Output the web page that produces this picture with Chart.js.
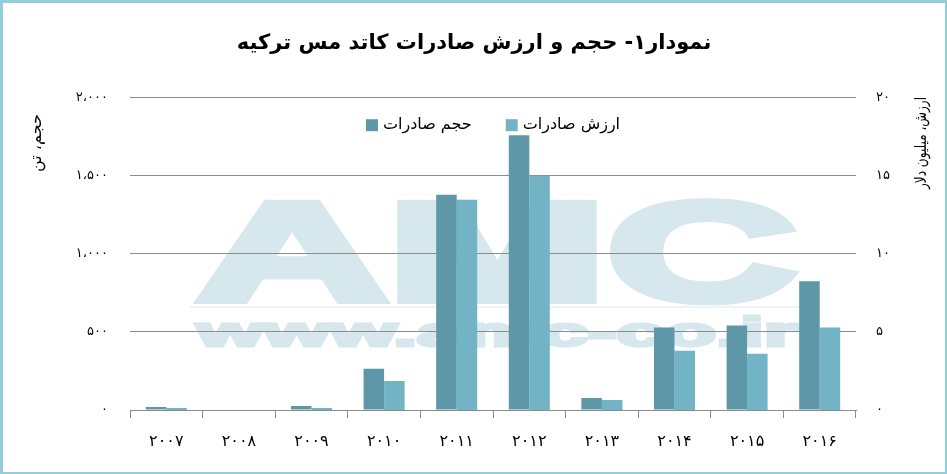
<!DOCTYPE html>
<html>
<head>
<meta charset="utf-8">
<script src="https://cdn.jsdelivr.net/npm/chart.js@4.4.1/dist/chart.umd.min.js"></script>
<style>
  html, body { margin: 0; padding: 0; background: #fff; }
  #wrap {
    width: 947px; height: 474px; box-sizing: border-box;
    border-style: solid; border-color: #92CDDC;
    border-width: 3px 2px 2px 3px;
    position: relative;
  }
  #wrap canvas { display: block; }
</style>
</head>
<body>
<div id="wrap"><canvas id="chart" width="942" height="469"></canvas></div>
<script>
// years (Persian digits) and the two series
const years = ["۲۰۰۷", "۲۰۰۸", "۲۰۰۹", "۲۰۱۰", "۲۰۱۱", "۲۰۱۲", "۲۰۱۳", "۲۰۱۴", "۲۰۱۵", "۲۰۱۶"];
const volumeTons = [19, 0, 26, 264, 1376, 1756, 77, 527, 540, 823];
const valueMillionUsd = [0.13, 0, 0.13, 1.86, 13.44, 14.98, 0.64, 3.79, 3.6, 5.27];

// tick labels
const leftTicks = ["۰", "۵۰۰", "۱،۰۰۰", "۱،۵۰۰", "۲،۰۰۰"];
const rightTicks = ["۰", "۵", "۱۰", "۱۵", "۲۰"];

const titleText = "نمودار۱- حجم و ارزش صادرات کاتد مس ترکیه";
const leftTitle = "حجم، تن";
const rightTitle = "ارزش، میلیون دلار";
const volumeLabel = "حجم صادرات";
const valueLabel = "ارزش صادرات";

const FONT = "'DejaVu Sans', sans-serif";

// faint AMC watermark behind the grid
const watermark = {
  id: "watermark",
  beforeDraw(chart) {
    const ctx = chart.ctx;
    ctx.save();
    ctx.fillStyle = "#D6E7ED";
    ctx.strokeStyle = "#D6E7ED";
    ctx.lineJoin = "miter";
    ctx.miterLimit = 2;
    ctx.textAlign = "center";
    ctx.textBaseline = "alphabetic";

    ctx.font = "bold 140px 'Liberation Sans', sans-serif";
    let w = ctx.measureText("AMC").width;
    ctx.save();
    ctx.translate(494, 297);
    ctx.scale(600 / w, 1);
    ctx.lineWidth = 8;
    ctx.fillText("AMC", 0, 0);
    ctx.strokeText("AMC", 0, 0);
    ctx.restore();

    ctx.fillStyle = "#EEF5F8";
    ctx.fillRect(187, 303, 610, 2);

    ctx.fillStyle = "#D6E7ED";
    ctx.font = "bold 40px 'Liberation Sans', sans-serif";
    w = ctx.measureText("www.amc-co.ir").width;
    ctx.translate(494, 343);
    ctx.scale(600 / w, 1);
    ctx.lineWidth = 3;
    ctx.fillText("www.amc-co.ir", 0, 0);
    ctx.strokeText("www.amc-co.ir", 0, 0);
    ctx.restore();
  }
};

// rotated axis titles near the top of each side
const axisTitles = {
  id: "axisTitles",
  afterDraw(chart) {
    const ctx = chart.ctx;
    ctx.save();
    ctx.fillStyle = "#000";
    ctx.font = "16px " + FONT;
    ctx.textAlign = "center";
    ctx.textBaseline = "middle";
    [[34, 140, 64, leftTitle], [919, 140, 92, rightTitle]].forEach(([x, y, len, t]) => {
      const w = ctx.measureText(t).width;
      ctx.save();
      ctx.translate(x, y);
      ctx.rotate(-Math.PI / 2);
      ctx.scale(Math.min(1, len / w), 1);
      ctx.fillText(t, 0, 0);
      ctx.restore();
    });
    ctx.restore();
  }
};

// legend row inside the plot, near its top
const innerLegend = {
  id: "innerLegend",
  afterDatasetsDraw(chart) {
    const ctx = chart.ctx;
    const area = chart.chartArea;
    const box = 12, gap = 5, spacing = 34;
    ctx.save();
    ctx.font = "16px " + FONT;
    ctx.textBaseline = "middle";
    ctx.textAlign = "left";
    const items = chart.data.datasets.map(ds => ({
      text: ds.label, color: ds.backgroundColor, w: ctx.measureText(ds.label).width
    }));
    let total = items.reduce((s, it) => s + box + gap + it.w, 0) + spacing * (items.length - 1);
    let x = (area.left + area.right) / 2 - total / 2;
    const y = area.top + 28;
    items.forEach(it => {
      ctx.fillStyle = it.color;
      ctx.fillRect(x, y - box / 2, box, box);
      ctx.fillStyle = "#000";
      ctx.fillText(it.text, x + box + gap, y);
      x += box + gap + it.w + spacing;
    });
    ctx.restore();
  }
};

const ctx = document.getElementById("chart").getContext("2d");
new Chart(ctx, {
  type: "bar",
  data: {
    labels: years,
    datasets: [
      {
        label: volumeLabel,
        data: volumeTons,
        yAxisID: "y",
        backgroundColor: "#5E98A8",
        categoryPercentage: 0.565,
        barPercentage: 1.0
      },
      {
        label: valueLabel,
        data: valueMillionUsd,
        yAxisID: "y1",
        backgroundColor: "#72B4C6",
        categoryPercentage: 0.565,
        barPercentage: 1.0
      }
    ]
  },
  options: {
    responsive: false,
    animation: false,
    layout: { padding: { left: 0, right: 0, top: 0, bottom: 0 } },
    plugins: {
      title: {
        display: true,
        text: titleText,
        color: "#000",
        font: { family: FONT, size: 21, weight: "bold" },
        padding: { top: 28, bottom: 41 }
      },
      legend: { display: false },
      tooltip: { enabled: false }
    },
    scales: {
      x: {
        offset: true,
        grid: {
          offset: true,
          drawOnChartArea: false,
          drawTicks: true,
          tickLength: 8,
          color: "#8C8C8C"
        },
        border: { display: true, color: "#8C8C8C" },
        ticks: {
          color: "#000",
          font: { family: FONT, size: 16 },
          padding: 14,
          maxRotation: 0
        },
        afterFit(s) { s.height = 62; }
      },
      y: {
        position: "left",
        min: 0,
        max: 2000,
        grid: { drawTicks: false, color: "#8C8C8C" },
        border: { display: false },
        ticks: {
          stepSize: 500,
          padding: 22,
          color: "#000",
          font: { family: FONT, size: 13 },
          callback: (v, i) => leftTicks[i]
        },
        afterFit(s) { s.width = 127; }
      },
      y1: {
        position: "right",
        min: 0,
        max: 20,
        grid: { display: false, drawTicks: false },
        border: { display: false },
        ticks: {
          stepSize: 5,
          padding: 20,
          color: "#000",
          font: { family: FONT, size: 13 },
          callback: (v, i) => rightTicks[i]
        },
        afterFit(s) { s.width = 89; }
      }
    }
  },
  plugins: [watermark, axisTitles, innerLegend]
});
</script>
</body>
</html>
